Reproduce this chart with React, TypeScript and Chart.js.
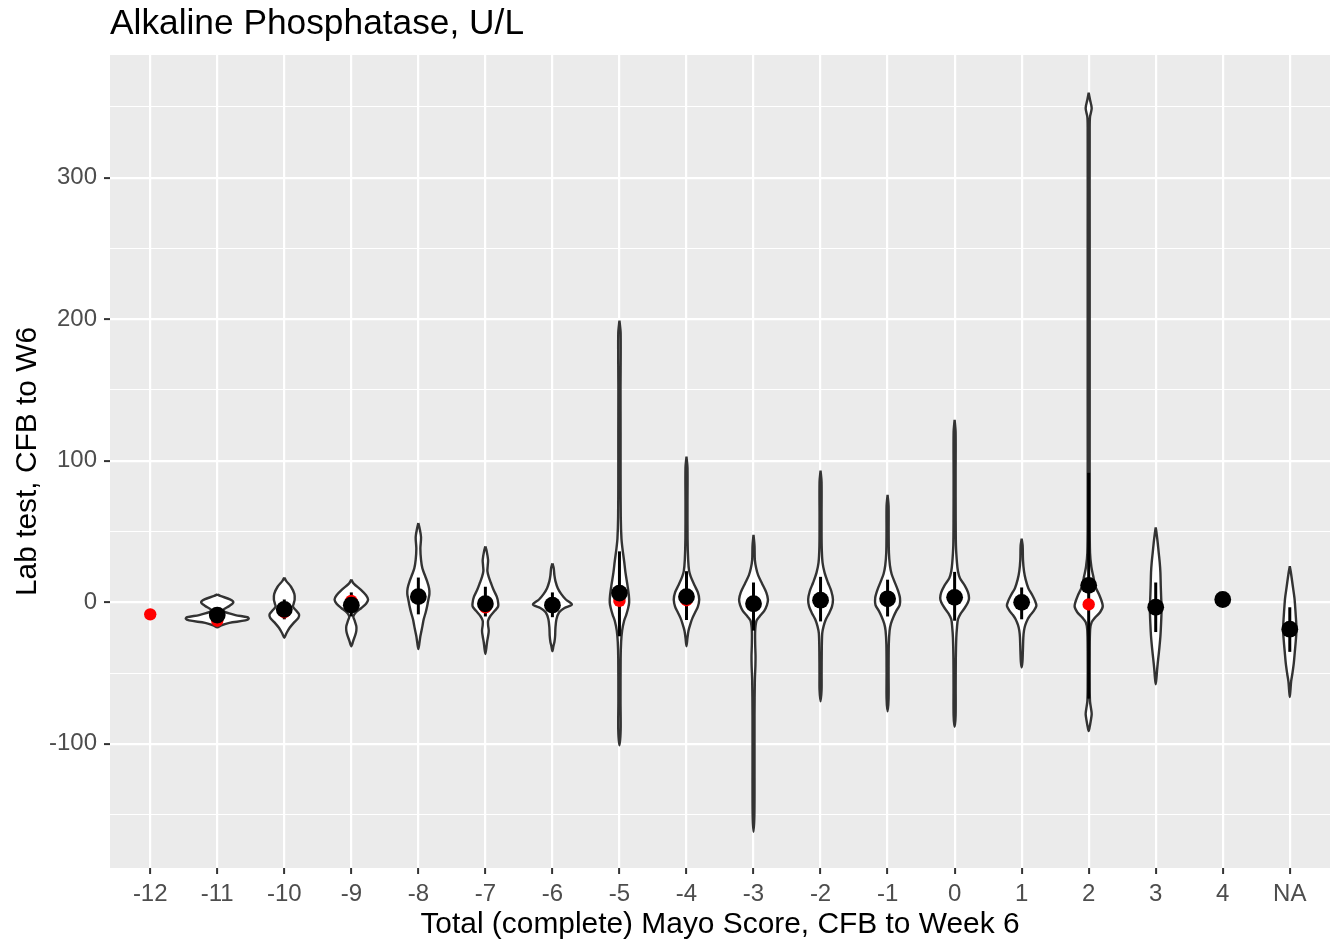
import React, { useEffect, useRef } from 'react';
import { Chart, registerables } from 'chart.js';

Chart.register(...registerables);

// ---------- data ----------
const categories = ['-12', '-11', '-10', '-9', '-8', '-7', '-6', '-5', '-4', '-3', '-2', '-1', '0', '1', '2', '3', '4', 'NA'];

// black points (mean)
const meanValues: (number | null)[] = [null, -9, -5, -2, 4, -1, -2, 6.5, 4, -1, 1.5, 2.5, 3.5, 0, 12, -3.5, 2, -19];
// red points (median)
const medianValues: (number | null)[] = [-8.5, -13, -7, 1, 4, -3.5, -2, 1, 1.5, -1, 1.5, 2.5, 3.5, -0.5, -1.5, -3.5, 2, -19];
// error bar limits
const ciLower: (number | null)[] = [null, -12, -12, -10, -8.5, -10, -10.5, -24, -12.5, -20, -13.5, -10, -13, -12, -68, -21, null, -35];
const ciUpper: (number | null)[] = [null, -6, 2, 7, 17.5, 11, 7, 36, 22, 14, 18, 16, 21.5, 10.5, 91.5, 14, null, -3.5];

const yLimits = [-187.7, 386.7];
const yMajorTicks = [-100, 0, 100, 200, 300];
const yMinorTicks = [-150, -50, 50, 150, 250, 350];

// violin profiles: [value, half width (category units)], top to bottom
const violinM11 = [[5.6, 0], [4.5, 0.045], [2.1, 0.19], [0, 0.24], [-2.6, 0.18], [-5.4, 0.09], [-7, 0.12], [-9, 0.27], [-10.5, 0.45], [-11.5, 0.47], [-12.8, 0.42], [-14.5, 0.18], [-16.2, 0.06], [-17.6, 0]];
const violinM10 = [[17.5, 0], [15, 0.03], [11, 0.1], [6, 0.15], [2, 0.155], [-1, 0.14], [-3, 0.13], [-6, 0.18], [-8.5, 0.22], [-11, 0.21], [-14, 0.15], [-18, 0.08], [-22, 0.03], [-25, 0]];
const violinM9 = [[16, 0], [13, 0.04], [9, 0.14], [5, 0.22], [2, 0.25], [-1, 0.22], [-4, 0.15], [-7, 0.07], [-10, 0.03], [-13, 0.05], [-17, 0.075], [-20, 0.075], [-23, 0.06], [-27, 0.03], [-31, 0]];
const violinM8 = [[56, 0], [52, 0.02], [46, 0.04], [38, 0.03], [30, 0.04], [24, 0.06], [20, 0.09], [15, 0.13], [10, 0.16], [6, 0.165], [2, 0.15], [-3, 0.13], [-7, 0.11], [-12, 0.08], [-17, 0.06], [-24, 0.03], [-29, 0.015], [-33, 0]];
const violinM7 = [[39.5, 0], [36, 0.02], [30, 0.04], [26, 0.035], [22, 0.03], [18, 0.05], [14, 0.08], [9, 0.12], [4, 0.17], [0, 0.19], [-3, 0.19], [-6, 0.14], [-10, 0.07], [-13, 0.04], [-16, 0.04], [-20, 0.05], [-24, 0.04], [-28, 0.025], [-32, 0.015], [-36.5, 0]];
const violinM6 = [[27.5, 0], [24, 0.02], [19, 0.03], [15, 0.045], [10, 0.08], [6, 0.13], [2, 0.2], [-1.5, 0.29], [-4, 0.18], [-7, 0.1], [-12, 0.06], [-18, 0.045], [-24, 0.04], [-28, 0.03], [-31, 0.015], [-34.5, 0]];
const violinM5 = [[199, 0], [190, 0.018], [150, 0.016], [120, 0.017], [90, 0.017], [60, 0.02], [45, 0.03], [38, 0.045], [29, 0.07], [21, 0.09], [12, 0.12], [5, 0.14], [0, 0.145], [-4, 0.13], [-9, 0.1], [-13, 0.07], [-20, 0.04], [-28, 0.025], [-40, 0.018], [-70, 0.016], [-90, 0.018], [-101, 0]];
const violinM4 = [[103, 0], [95, 0.015], [70, 0.015], [45, 0.016], [30, 0.025], [22, 0.04], [18, 0.065], [12, 0.12], [7, 0.17], [2, 0.19], [-3, 0.17], [-7, 0.13], [-11, 0.09], [-15, 0.06], [-20, 0.03], [-25, 0.015], [-31, 0]];
const violinM3 = [[47.6, 0], [40, 0.015], [30, 0.02], [24, 0.04], [19, 0.07], [13, 0.13], [7, 0.19], [2, 0.215], [-2, 0.2], [-6, 0.16], [-10, 0.09], [-13, 0.045], [-20, 0.025], [-30, 0.025], [-38, 0.03], [-45, 0.028], [-55, 0.02], [-80, 0.015], [-120, 0.015], [-150, 0.013], [-162, 0]];
const violinM2 = [[93, 0], [85, 0.015], [60, 0.015], [40, 0.017], [28, 0.03], [21, 0.06], [14, 0.11], [8, 0.16], [2, 0.185], [-3, 0.17], [-7.5, 0.13], [-12, 0.08], [-17, 0.045], [-22, 0.025], [-35, 0.018], [-50, 0.016], [-62, 0.015], [-70, 0]];
const violinM1 = [[76, 0], [68, 0.015], [50, 0.016], [35, 0.02], [26, 0.035], [20, 0.06], [15, 0.1], [9, 0.15], [3, 0.185], [-2, 0.18], [-6, 0.13], [-10, 0.09], [-15, 0.05], [-20, 0.03], [-30, 0.018], [-50, 0.015], [-68, 0.015], [-77, 0]];
const violin0 = [[129, 0], [120, 0.015], [90, 0.015], [60, 0.016], [40, 0.02], [28, 0.035], [22, 0.05], [17, 0.08], [12, 0.15], [7, 0.2], [3, 0.215], [0, 0.2], [-4, 0.15], [-8, 0.09], [-12, 0.05], [-18, 0.035], [-25, 0.025], [-40, 0.018], [-60, 0.016], [-80, 0.015], [-88, 0]];
const violin1 = [[45, 0], [40, 0.015], [30, 0.02], [22, 0.035], [16, 0.06], [10, 0.1], [5, 0.16], [1, 0.2], [-2.4, 0.22], [-6, 0.18], [-9, 0.13], [-12, 0.09], [-16, 0.055], [-20, 0.035], [-25, 0.025], [-35, 0.018], [-42, 0.012], [-46, 0]];
const violin2 = [[360, 0], [355, 0.02], [349, 0.045], [343, 0.02], [335, 0.015], [250, 0.015], [150, 0.015], [60, 0.015], [35, 0.02], [25, 0.04], [18, 0.07], [11, 0.1], [5, 0.16], [-2.6, 0.21], [-7, 0.17], [-11, 0.09], [-14, 0.045], [-19, 0.022], [-35, 0.015], [-60, 0.015], [-70, 0.02], [-75, 0.035], [-79, 0.045], [-84, 0.03], [-88, 0.015], [-91, 0]];
const violin3 = [[53, 0], [48, 0.015], [42, 0.03], [35, 0.045], [28, 0.06], [21, 0.07], [12, 0.075], [5, 0.08], [-5, 0.087], [-15, 0.08], [-24, 0.07], [-32, 0.055], [-40, 0.037], [-47, 0.022], [-53, 0.012], [-58, 0]];
const violinNA = [[25.6, 0], [20, 0.02], [11.5, 0.045], [3, 0.07], [-3, 0.08], [-10, 0.09], [-19, 0.1], [-27, 0.09], [-35, 0.075], [-43, 0.06], [-50, 0.04], [-56, 0.02], [-62, 0.01], [-67, 0]];

const violins: (number[][] | null)[] = [
  null, violinM11, violinM10, violinM9, violinM8, violinM7, violinM6, violinM5, violinM4,
  violinM3, violinM2, violinM1, violin0, violin1, violin2, violin3, null, violinNA,
];

// ---------- helpers ----------
function outline(i: number, prof: number[][]) {
  const right = prof.map(([v, w]) => ({ x: i + w, y: v }));
  const left = prof.slice().reverse().map(([v, w]) => ({ x: i - w, y: v }));
  return [...right, ...left.slice(1)];
}

const FONT = "'Liberation Sans', Arial, Helvetica, sans-serif";

const panelBg = {
  id: 'panelBg',
  beforeDraw(chart: any) {
    const { ctx, chartArea } = chart;
    ctx.save();
    ctx.fillStyle = '#EBEBEB';
    ctx.fillRect(chartArea.left, chartArea.top, chartArea.right - chartArea.left, chartArea.bottom - chartArea.top);
    ctx.restore();
  },
};

export default function App() {
  const ref = useRef<HTMLCanvasElement | null>(null);

  useEffect(() => {
    if (!ref.current) return;
    const datasets: any[] = [];

    violins.forEach((prof, i) => {
      if (!prof) return;
      datasets.push({
        type: 'line',
        data: outline(i, prof),
        borderColor: '#333333',
        backgroundColor: '#FFFFFF',
        borderWidth: 2.4,
        borderJoinStyle: 'round',
        fill: 'shape',
        pointRadius: 0,
        tension: 0.3,
        order: 4,
      });
    });

    categories.forEach((_, i) => {
      const lo = ciLower[i];
      const hi = ciUpper[i];
      if (lo == null || hi == null) return;
      datasets.push({
        type: 'line',
        data: [{ x: i, y: lo }, { x: i, y: hi }],
        borderColor: '#000000',
        borderWidth: 3,
        fill: false,
        pointRadius: 0,
        order: 3,
      });
    });

    datasets.push({
      type: 'scatter',
      data: medianValues.map((v, i) => (v == null ? null : { x: i, y: v })).filter(Boolean),
      backgroundColor: '#FF0000',
      borderWidth: 0,
      pointRadius: 6.2,
      order: 2,
    });

    datasets.push({
      type: 'scatter',
      data: meanValues.map((v, i) => (v == null ? null : { x: i, y: v })).filter(Boolean),
      backgroundColor: '#000000',
      borderWidth: 0,
      pointRadius: 8.4,
      order: 1,
    });

    const isMajor = (v: number) => yMajorTicks.includes(v);

    const chart = new Chart(ref.current, {
      type: 'scatter',
      data: { datasets },
      plugins: [panelBg],
      options: {
        animation: false,
        responsive: false,
        devicePixelRatio: 1,
        layout: { padding: { left: 0, right: 10, top: 0, bottom: 0 } },
        plugins: {
          legend: { display: false },
          tooltip: { enabled: false },
          title: {
            display: true,
            text: 'Alkaline Phosphatase, U/L',
            align: 'start',
            fullSize: false,
            color: '#000000',
            font: { family: FONT, size: 35.3, weight: 'normal' },
            padding: { top: 3, bottom: 9.6 },
          },
        },
        scales: {
          x: {
            type: 'linear',
            min: -0.6,
            max: categories.length - 0.4,
            afterBuildTicks: (scale: any) => {
              scale.ticks = categories.map((_, i) => ({ value: i }));
            },
            afterFit: (scale: any) => {
              scale.height = 78;
            },
            ticks: {
              autoSkip: false,
              maxRotation: 0,
              padding: 5.5,
              color: '#4D4D4D',
              font: { family: FONT, size: 24 },
              callback: (v: any) => categories[v as number] ?? '',
            },
            grid: {
              color: '#FFFFFF',
              lineWidth: 2.2,
              tickColor: '#333333',
              tickLength: 6,
              tickWidth: 2,
            },
            border: { display: false },
            title: {
              display: true,
              text: 'Total (complete) Mayo Score, CFB to Week 6',
              color: '#000000',
              font: { family: FONT, size: 29.9 },
              padding: { top: 0, bottom: 3.5 },
            },
          },
          y: {
            type: 'linear',
            min: yLimits[0],
            max: yLimits[1],
            afterBuildTicks: (scale: any) => {
              scale.ticks = [...yMinorTicks, ...yMajorTicks].sort((a, b) => a - b).map((v) => ({ value: v }));
            },
            afterFit: (scale: any) => {
              scale.width = 110;
            },
            ticks: {
              autoSkip: false,
              padding: 7,
              color: '#4D4D4D',
              font: { family: FONT, size: 24 },
              callback: (v: any) => (isMajor(v as number) ? String(v) : ''),
            },
            grid: {
              color: '#FFFFFF',
              lineWidth: (ctx: any) => (isMajor(ctx.tick?.value) ? 2.2 : 1.1),
              tickColor: (ctx: any) => (isMajor(ctx.tick?.value) ? '#333333' : 'rgba(0,0,0,0)'),
              tickLength: 6,
              tickWidth: 2,
            },
            border: { display: false },
            title: {
              display: true,
              text: 'Lab test, CFB to W6',
              color: '#000000',
              font: { family: FONT, size: 29.9 },
              padding: { top: 10, bottom: 0 },
            },
          },
        },
      } as any,
    });

    return () => chart.destroy();
  }, []);

  return (
    <div style={{ position: 'fixed', left: 0, top: 0, width: 1340, height: 946, background: '#FFFFFF' }}>
      <canvas ref={ref} width={1340} height={946} style={{ display: 'block' }} />
    </div>
  );
}
